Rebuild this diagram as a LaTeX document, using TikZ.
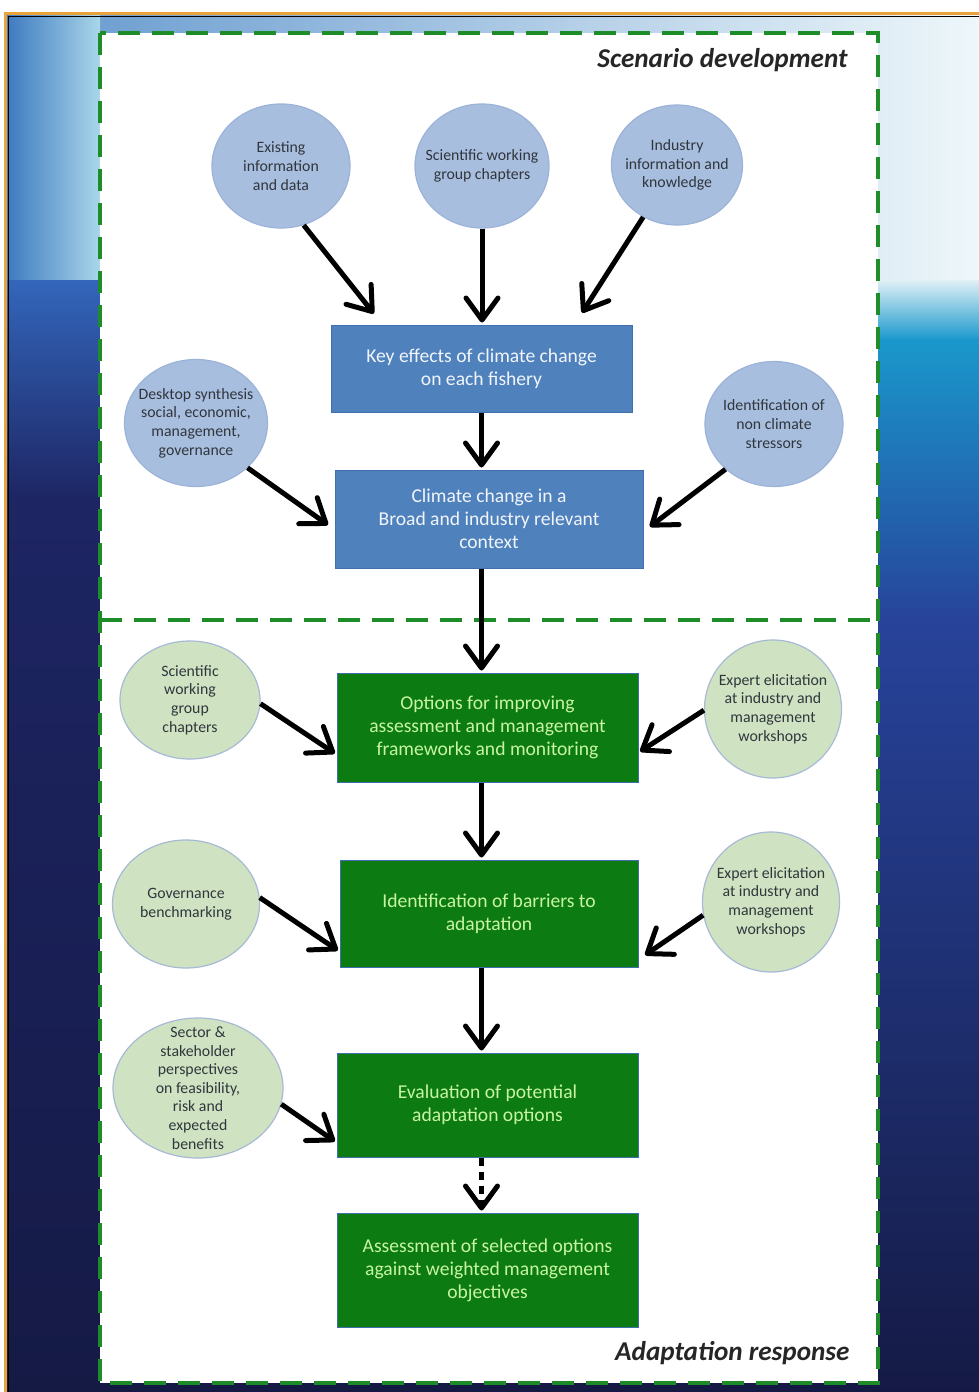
\documentclass[tikz,border=0pt]{standalone}
\usepackage{fontspec}
\setmainfont{Carlito}
\usetikzlibrary{shapes.geometric, arrows.meta}

\definecolor{skyleft}{HTML}{3C78C0}
\definecolor{skyedge}{HTML}{A9D6E8}
\definecolor{skymid}{HTML}{BDE0EC}
\definecolor{skyright}{HTML}{EEF7FA}
\definecolor{seatop}{HTML}{3366BB}
\definecolor{seamid}{HTML}{1D2563}
\definecolor{seabottom}{HTML}{151A45}
\definecolor{seacyan}{HTML}{1A98CC}
\definecolor{seablue}{HTML}{27439A}
\definecolor{slideedge}{HTML}{E8A33A}
\definecolor{framegreen}{HTML}{1E8C28}
\definecolor{bubblue}{HTML}{A8BEDF}
\definecolor{bubblueline}{HTML}{9CB3D8}
\definecolor{bubgreen}{HTML}{CFE3C3}
\definecolor{bubgreenline}{HTML}{A8B9D6}
\definecolor{bubink}{HTML}{30363C}
\definecolor{boxblue}{HTML}{4F81BD}
\definecolor{boxblueline}{HTML}{3F6FAE}
\definecolor{boxgreen}{HTML}{0C7C12}
\definecolor{boxgreenink}{HTML}{C8F4A4}

\begin{document}
\begin{tikzpicture}[
        x=0.5pt, y=-0.5pt,
        bubble/.style={ellipse, inner sep=0pt, line width=0.6pt},
        bluebub/.style={bubble, fill=bubblue, draw=bubblueline},
        greenbub/.style={bubble, fill=bubgreen, draw=bubgreenline},
        bubtext/.style={align=center, text=bubink, font=\fontsize{7.9}{9.3}\selectfont, inner sep=0pt},
        box/.style={rectangle, align=center, font=\fontsize{9.8}{11.5}\selectfont, line width=0.5pt, minimum width=150.5pt},
        bluebox/.style={box, fill=boxblue, draw=boxblueline, text=white!92!boxblue},
        greenbox/.style={box, fill=boxgreen, draw=boxblueline, text=boxgreenink},
        arrow/.style={line width=2.5pt, -{Straight Barb[length=11pt, width=16pt, round]}},
        frame/.style={draw=framegreen, line width=2pt, dash pattern=on 11pt off 6pt},
        heading/.style={font=\fontsize{13.6}{16}\selectfont\bfseries\itshape, text=black!85, anchor=east, inner sep=0pt}
    ]
    % slide background
    \useasboundingbox (0,0) rectangle (979,1392);
    \fill[white] (0,0) rectangle (979,1392);
    \shade[left color=skyleft!70!skymid, middle color=skymid, right color=skyright] (5,13) rectangle (979,282);
    \shade[left color=skyleft, right color=skyedge] (5,13) rectangle (100,282);
    \shade[top color=seatop, bottom color=seamid] (5,280) rectangle (979,500);
    \shade[top color=seamid, bottom color=seabottom] (5,499) rectangle (979,1392);
    \shade[top color=skyright!70!skymid, bottom color=seacyan] (878,280) rectangle (979,340);
    \shade[top color=seacyan, bottom color=seablue] (878,339) rectangle (979,620);
    \shade[top color=seablue, bottom color=seabottom] (878,619) rectangle (979,1392);
    \draw[slideedge, line width=1.5pt] (5,1392) -- (5,13) -- (979,13);
    \draw[black, line width=0.8pt] (8.5,1392) -- (8.5,16.5) -- (979,16.5);

    % panel
    \fill[white] (100,33) rectangle (878,1383);
    \draw[frame] (100,33) rectangle (878,1383);
    \draw[frame] (100,620) -- (878,620);
    \node[heading] (scen) at (848,60) {Scenario development};
    \node[heading] (adapt) at (850,1353) {Adaptation response};

    % scenario development
    \node[bluebub, minimum width=69pt, minimum height=62pt, label={[bubtext]center:{Existing\\information\\and data}}] (exist) at (281,166) {};
    \node[bluebub, minimum width=67pt, minimum height=62pt, label={[bubtext]center:{Scientific working\\group chapters}}] (sci) at (482,166) {};
    \node[bluebub, minimum width=65.5pt, minimum height=60pt, label={[bubtext]center:{Industry\\information and\\knowledge}}] (industry) at (677,165) {};
    \node[bluebox, minimum height=43.5pt] (effects) at (481.5,368.5) {Key effects of climate change\\on each fishery};
    \node[bluebub, minimum width=71.5pt, minimum height=63.5pt, label={[bubtext]center:{Desktop synthesis\\social, economic,\\management,\\governance}}] (desktop) at (196,423) {};
    \node[bluebub, minimum width=69pt, minimum height=62.5pt, label={[bubtext]center:{Identification of\\non climate\\stressors}}] (stress) at (774,424) {};
    \node[bluebox, minimum width=154pt, minimum height=49pt] (context) at (489,519) {Climate change in a\\Broad and industry relevant\\context};

    % adaptation response
    \node[greenbox, minimum height=54.5pt] (options) at (487.5,727.5) {Options for improving\\assessment and management\\frameworks and monitoring};
    \node[greenbub, minimum width=70pt, minimum height=59pt, label={[bubtext]center:{Scientific\\working\\group\\chapters}}] (sciwg) at (190,700) {};
    \node[greenbub, minimum width=68.5pt, minimum height=69pt, label={[bubtext]center:{Expert elicitation\\at industry and\\management\\workshops}}] (expert1) at (773,709) {};
    \node[greenbox, minimum width=149pt, minimum height=53.5pt] (barriers) at (489,913.5) {Identification of barriers to\\adaptation};
    \node[greenbub, minimum width=73.5pt, minimum height=64pt, label={[bubtext]center:{Governance\\benchmarking}}] (govern) at (186,904) {};
    \node[greenbub, minimum width=68.5pt, minimum height=70pt, label={[bubtext]center:{Expert elicitation\\at industry and\\management\\workshops}}] (expert2) at (771,902) {};
    \node[greenbox, minimum height=52pt] (evaluation) at (487.5,1105) {Evaluation of potential\\adaptation options};
    \node[greenbub, minimum width=85pt, minimum height=70pt, label={[bubtext]center:{Sector \&\\stakeholder\\perspectives\\on feasibility,\\risk and\\expected\\benefits}}] (sector) at (198,1088) {};
    \node[greenbox, minimum height=57pt] (assess) at (487.5,1270) {Assessment of selected options\\against weighted management\\objectives};

    % connectors
    \draw[arrow, shorten >=7pt] (exist.-69) -- ([shift={(52,0)}]effects.north west);
    \draw[arrow, shorten >=1pt] (sci.south) -- (sci.south |- effects.north);
    \draw[arrow, shorten >=7pt] (industry.-123) -- ([shift={(-58,0)}]effects.north east);
    \draw[arrow, shorten >=1pt] (effects.south) -- (effects.south |- context.north);
    \draw[arrow, shorten >=4pt] (desktop.-41) -- ([shift={(0,60)}]context.north west);
    \draw[arrow, shorten >=4pt] (stress.-137) -- ([shift={(0,62)}]context.north east);
    \draw[arrow, shorten >=1pt] (context.south -| effects) -- (options.north -| effects);
    \draw[arrow, shorten >=1pt] (sciwg.-3) -- ([shift={(0,82)}]options.north west);
    \draw[arrow, shorten >=1pt] (expert1.181) -- ([shift={(0,80)}]options.north east);
    \draw[arrow, shorten >=1pt] (options.south -| effects) -- (barriers.north -| effects);
    \draw[arrow, shorten >=1pt] (govern.5) -- ([shift={(0,92)}]barriers.north west);
    \draw[arrow, shorten >=4pt] (expert2.191) -- ([shift={(0,100)}]barriers.north east);
    \draw[arrow, shorten >=1pt] (barriers.south -| effects) -- (evaluation.north -| effects);
    \draw[arrow, shorten >=1pt] (sector.-11) -- ([shift={(0,90)}]evaluation.north west);
    \draw[arrow, shorten >=1pt, dash pattern=on 4pt off 3pt] (evaluation.south -| effects) -- (assess.north -| effects);
\end{tikzpicture}
\end{document}
